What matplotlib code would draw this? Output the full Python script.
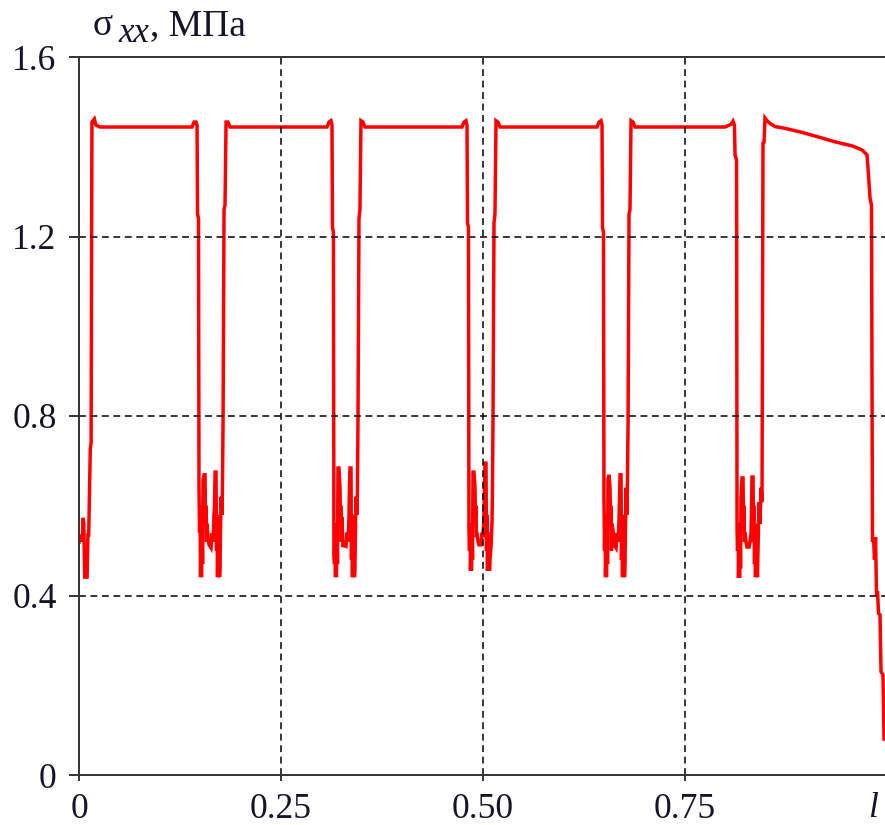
import numpy as np
import matplotlib
matplotlib.use("Agg")
import matplotlib.pyplot as plt
from matplotlib.transforms import blended_transform_factory

# Normal stress sigma_xx (MPa) along the relative length l
x_start = [0.000, 0.001, 0.004, 0.005, 0.006, 0.007, 0.010, 0.011, 0.012, 0.014,
           0.015, 0.016, 0.019, 0.021, 0.026]
s_start = [0.519, 0.535, 0.520, 0.573, 0.560, 0.441, 0.441, 0.535, 0.535, 0.729,
           0.740, 1.455, 1.462, 1.448, 1.444]

x_dip1 = [0.1399, 0.1424, 0.1448, 0.1461, 0.1467, 0.1479, 0.1485, 0.1492, 0.1498, 0.1504,
          0.1510, 0.1516, 0.1523, 0.1529, 0.1535, 0.1547, 0.1560, 0.1566, 0.1572, 0.1578,
          0.1584, 0.1597, 0.1609, 0.1634, 0.1646, 0.1659, 0.1671, 0.1677, 0.1684, 0.1696,
          0.1702, 0.1708, 0.1714, 0.1721, 0.1727, 0.1733, 0.1739, 0.1745, 0.1758, 0.1770,
          0.1776, 0.1783, 0.1795, 0.1807, 0.1820, 0.1844, 0.1869]
s_dip1 = [1.444, 1.455, 1.455, 1.448, 1.250, 1.240, 0.640, 0.540, 0.600, 0.441,
          0.520, 0.441, 0.580, 0.470, 0.657, 0.669, 0.669, 0.560, 0.600, 0.520,
          0.560, 0.530, 0.513, 0.506, 0.539, 0.520, 0.580, 0.600, 0.675, 0.675,
          0.500, 0.580, 0.441, 0.530, 0.441, 0.540, 0.441, 0.464, 0.620, 0.580,
          0.657, 0.790, 1.260, 1.270, 1.455, 1.455, 1.444]

x_dip2 = [0.3069, 0.3094, 0.3118, 0.3131, 0.3137, 0.3149, 0.3155, 0.3162, 0.3168, 0.3174,
          0.3180, 0.3186, 0.3193, 0.3199, 0.3205, 0.3217, 0.3230, 0.3236, 0.3242, 0.3248,
          0.3254, 0.3267, 0.3279, 0.3304, 0.3316, 0.3329, 0.3341, 0.3347, 0.3354, 0.3366,
          0.3372, 0.3378, 0.3384, 0.3391, 0.3397, 0.3403, 0.3409, 0.3415, 0.3428, 0.3440,
          0.3446, 0.3453, 0.3465, 0.3477, 0.3490, 0.3514, 0.3539]
s_dip2 = [1.444, 1.455, 1.458, 1.448, 1.220, 1.210, 0.497, 0.470, 0.560, 0.441,
          0.520, 0.441, 0.560, 0.470, 0.684, 0.684, 0.640, 0.560, 0.600, 0.520,
          0.575, 0.508, 0.513, 0.510, 0.540, 0.520, 0.575, 0.640, 0.684, 0.684,
          0.480, 0.580, 0.441, 0.530, 0.441, 0.540, 0.441, 0.464, 0.620, 0.580,
          0.640, 0.800, 1.240, 1.260, 1.458, 1.455, 1.444]

x_dip3 = [0.4740, 0.4765, 0.4789, 0.4802, 0.4808, 0.4820, 0.4826, 0.4833, 0.4839, 0.4845,
          0.4851, 0.4857, 0.4864, 0.4870, 0.4876, 0.4888, 0.4901, 0.4907, 0.4913, 0.4919,
          0.4925, 0.4938, 0.4950, 0.4975, 0.4987, 0.5000, 0.5012, 0.5018, 0.5025, 0.5037,
          0.5043, 0.5049, 0.5055, 0.5062, 0.5068, 0.5074, 0.5080, 0.5086, 0.5099, 0.5111,
          0.5117, 0.5124, 0.5136, 0.5148, 0.5161, 0.5185, 0.5210]
s_dip3 = [1.444, 1.455, 1.458, 1.448, 1.230, 1.220, 0.539, 0.500, 0.560, 0.455,
          0.520, 0.455, 0.560, 0.480, 0.675, 0.675, 0.640, 0.575, 0.600, 0.530,
          0.540, 0.520, 0.513, 0.513, 0.540, 0.530, 0.580, 0.640, 0.695, 0.695,
          0.500, 0.580, 0.455, 0.530, 0.455, 0.540, 0.455, 0.480, 0.508, 0.560,
          0.640, 0.800, 1.230, 1.250, 1.458, 1.455, 1.444]

x_dip4 = [0.6411, 0.6436, 0.6460, 0.6473, 0.6479, 0.6491, 0.6497, 0.6504, 0.6510, 0.6516,
          0.6522, 0.6528, 0.6535, 0.6541, 0.6547, 0.6559, 0.6572, 0.6578, 0.6584, 0.6590,
          0.6596, 0.6609, 0.6621, 0.6646, 0.6658, 0.6671, 0.6683, 0.6689, 0.6696, 0.6708,
          0.6714, 0.6720, 0.6726, 0.6733, 0.6739, 0.6745, 0.6751, 0.6757, 0.6770, 0.6782,
          0.6788, 0.6795, 0.6807, 0.6819, 0.6832, 0.6856, 0.6881]
s_dip4 = [1.444, 1.455, 1.458, 1.448, 1.220, 1.210, 0.620, 0.500, 0.580, 0.441,
          0.520, 0.441, 0.560, 0.470, 0.660, 0.669, 0.640, 0.560, 0.600, 0.500,
          0.560, 0.546, 0.513, 0.506, 0.539, 0.520, 0.568, 0.620, 0.669, 0.669,
          0.479, 0.580, 0.441, 0.530, 0.441, 0.540, 0.441, 0.470, 0.640, 0.580,
          0.660, 0.780, 1.250, 1.260, 1.458, 1.455, 1.444]

x_dip5 = [0.7995, 0.8069, 0.8094, 0.8112, 0.8119, 0.8138, 0.8144, 0.8150, 0.8156, 0.8162,
          0.8168, 0.8175, 0.8181, 0.8187, 0.8193, 0.8205, 0.8218, 0.8224, 0.8230, 0.8236,
          0.8243, 0.8255, 0.8267, 0.8292, 0.8304, 0.8317, 0.8323, 0.8329, 0.8342, 0.8348,
          0.8354, 0.8360, 0.8366, 0.8372, 0.8379, 0.8385, 0.8391, 0.8397, 0.8403, 0.8416,
          0.8428, 0.8441, 0.8453, 0.8465, 0.8478]
s_dip5 = [1.444, 1.450, 1.457, 1.448, 1.382, 1.370, 0.546, 0.500, 0.560, 0.439,
          0.520, 0.439, 0.560, 0.460, 0.620, 0.662, 0.662, 0.560, 0.600, 0.520,
          0.540, 0.519, 0.508, 0.508, 0.519, 0.540, 0.600, 0.664, 0.664, 0.520,
          0.600, 0.470, 0.560, 0.441, 0.540, 0.441, 0.460, 0.441, 0.500, 0.608,
          0.560, 0.640, 0.608, 1.408, 1.410]

x_tail = [0.8490, 0.8515, 0.8552, 0.8614, 0.8738, 0.8948, 0.9146, 0.9356, 0.9567, 0.9691,
          0.9752, 0.9765, 0.9790, 0.9808, 0.9820, 0.9833, 0.9845, 0.9858, 0.9870, 0.9882,
          0.9895, 0.9913, 0.9926, 0.9950, 0.9963]
s_tail = [1.464, 1.458, 1.452, 1.445, 1.441, 1.432, 1.422, 1.411, 1.402, 1.393,
          1.382, 1.352, 1.285, 1.270, 0.520, 0.530, 0.480, 0.530, 0.400, 0.410,
          0.360, 0.357, 0.230, 0.223, 0.080]

x_ticks = [0, 0.25, 0.5, 0.75]
x_tick_labels = ["0", "0.25", "0.50", "0.75"]
y_ticks = [0, 0.4, 0.8, 1.2, 1.6]
y_tick_labels = ["0", "0.4", "0.8", "1.2", "1.6"]

l = np.concatenate([x_start, x_dip1, x_dip2, x_dip3, x_dip4, x_dip5, x_tail])
sigma = np.concatenate([s_start, s_dip1, s_dip2, s_dip3, s_dip4, s_dip5, s_tail])

W, H = 885, 825
serif = ["Liberation Serif", "DejaVu Serif"]
text_color = "#14142a"
axis_color = "#333333"

fig = plt.figure(figsize=(W / 100, H / 100), dpi=100)
ax = fig.add_axes([79 / W, (825 - 775) / H, 806 / W, 718 / H])

ax.plot(l, sigma, color="#ff0000", lw=2.5, solid_joinstyle="miter", zorder=2)

ax.set_xlim(0, 0.9975)
ax.set_ylim(0, 1.6)

# dashed grid drawn over the curve
for xv in x_ticks[1:]:
    ax.axvline(xv, color="black", lw=1.1, ls=(0, (4.5, 3.0)), zorder=3)
for yv in y_ticks[1:-1]:
    ax.axhline(yv, color="black", lw=1.1, ls=(0, (4.5, 3.0)), zorder=3)

for side in ("left", "bottom", "top"):
    ax.spines[side].set_color(axis_color)
    ax.spines[side].set_linewidth(1.4)
    ax.spines[side].set_zorder(4)
ax.spines["right"].set_visible(False)

ax.set_xticks(x_ticks)
ax.set_xticklabels(x_tick_labels)
ax.set_yticks(y_ticks)
ax.set_yticklabels(y_tick_labels)
ax.tick_params(axis="x", direction="out", length=4.3, width=1.4, color=axis_color,
               pad=9, labelsize=25.5, labelcolor=text_color)
ax.tick_params(axis="y", direction="out", length=7.2, width=1.4, color=axis_color,
               pad=9, labelsize=25.5, labelcolor=text_color)
for lab in ax.get_xticklabels() + ax.get_yticklabels():
    lab.set_family(serif)

# axis name at the end of the l axis
trans = blended_transform_factory(ax.transData, ax.transAxes)
ax.text(0.983, -0.0585, "l", transform=trans, ha="center", va="baseline",
        fontsize=25.5, family=serif, style="italic", color=text_color)

# quantity and unit above the y axis
fig.text(93 / W, 1 - 35 / H, "σ", fontsize=27, family=serif,
         color=text_color, va="baseline", ha="left")
fig.text(118 / W, 1 - 42 / H, "xx", fontsize=25, family=serif, style="italic",
         color=text_color, va="baseline", ha="left")
fig.text(150 / W, 1 - 35 / H, ", МПа", fontsize=27, family=serif,
         color=text_color, va="baseline", ha="left")

fig.savefig("out.png", dpi=100)
